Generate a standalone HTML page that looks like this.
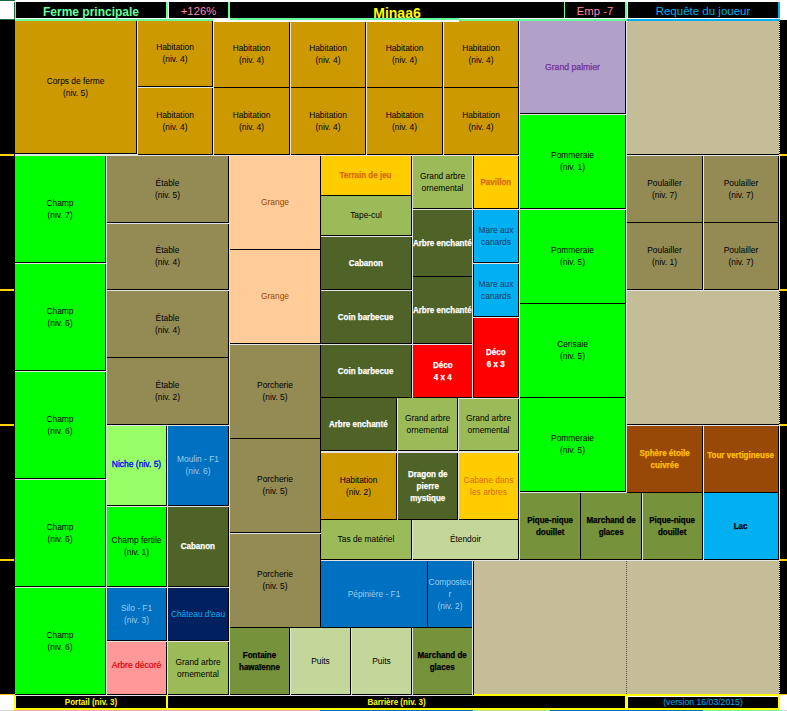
<!DOCTYPE html><html><head><meta charset="utf-8"><title>Ferme principale</title><style>
*{margin:0;padding:0;box-sizing:border-box}
html,body{width:787px;height:711px;overflow:hidden;background:#fff}
body{position:relative;font-family:"Liberation Sans",sans-serif}
.b span{display:inline-block}
.b{position:absolute;display:flex;align-items:center;justify-content:center;text-align:center;overflow:hidden;white-space:nowrap}
.r{position:absolute}
.t{position:absolute;display:flex;align-items:flex-end;justify-content:center;white-space:nowrap;line-height:1}
</style></head><body>
<div class="r" style="left:14px;top:20px;width:766px;height:676px;background:#e4e4e4"></div>
<div class="b" style="left:15px;top:21px;width:122px;height:133px;background:#cc9900;color:#000000;font-size:8.40px;line-height:12px;border-right:1px solid #000;border-bottom:1px solid #000"><span>Corps de ferme<br>(niv. 5)</span></div>
<div class="b" style="left:138px;top:21px;width:75px;height:66px;background:#cc9900;color:#000000;font-size:8.40px;line-height:12px;border-right:1px solid #000;border-bottom:1px solid #000"><span style="transform:translateY(-1.0px)">Habitation<br>(niv. 4)</span></div>
<div class="b" style="left:138px;top:88px;width:75px;height:67px;background:#cc9900;color:#000000;font-size:8.40px;line-height:12px;border-right:1px solid #000;border-bottom:1px solid #000"><span>Habitation<br>(niv. 4)</span></div>
<div class="b" style="left:214px;top:21px;width:76px;height:67px;background:#cc9900;color:#000000;font-size:8.40px;line-height:12px;border-right:1px solid #000;border-bottom:1px solid #000"><span>Habitation<br>(niv. 4)</span></div>
<div class="b" style="left:214px;top:88px;width:76px;height:67px;background:#cc9900;color:#000000;font-size:8.40px;line-height:12px;border-right:1px solid #000;border-bottom:1px solid #000"><span>Habitation<br>(niv. 4)</span></div>
<div class="b" style="left:291px;top:21px;width:75px;height:67px;background:#cc9900;color:#000000;font-size:8.40px;line-height:12px;border-right:1px solid #000;border-bottom:1px solid #000"><span>Habitation<br>(niv. 4)</span></div>
<div class="b" style="left:291px;top:88px;width:75px;height:67px;background:#cc9900;color:#000000;font-size:8.40px;line-height:12px;border-right:1px solid #000;border-bottom:1px solid #000"><span>Habitation<br>(niv. 4)</span></div>
<div class="b" style="left:367px;top:21px;width:76px;height:67px;background:#cc9900;color:#000000;font-size:8.40px;line-height:12px;border-right:1px solid #000;border-bottom:1px solid #000"><span>Habitation<br>(niv. 4)</span></div>
<div class="b" style="left:367px;top:88px;width:76px;height:67px;background:#cc9900;color:#000000;font-size:8.40px;line-height:12px;border-right:1px solid #000;border-bottom:1px solid #000"><span>Habitation<br>(niv. 4)</span></div>
<div class="b" style="left:444px;top:21px;width:75px;height:67px;background:#cc9900;color:#000000;font-size:8.40px;line-height:12px;border-right:1px solid #000;border-bottom:1px solid #000"><span>Habitation<br>(niv. 4)</span></div>
<div class="b" style="left:444px;top:88px;width:75px;height:67px;background:#cc9900;color:#000000;font-size:8.40px;line-height:12px;border-right:1px solid #000;border-bottom:1px solid #000"><span>Habitation<br>(niv. 4)</span></div>
<div class="b" style="left:520px;top:21px;width:106px;height:93px;background:#b1a0c7;color:#7030a0;font-size:8.70px;line-height:12px;border-right:1px solid #000;border-bottom:1px solid #000;-webkit-text-stroke:0.25px #7030a0"><span>Grand palmier</span></div>
<div class="b" style="left:627px;top:21px;width:152px;height:134px;background:#c4bd97;color:#000000;font-size:8.40px;line-height:12px;border-bottom:1px solid #000"><span style="transform:translateY(-1.0px)"></span></div>
<div class="b" style="left:15px;top:156px;width:91px;height:107px;background:#00ff00;color:#000000;font-size:8.40px;line-height:12px;border-right:1px solid #000;border-bottom:1px solid #000"><span>Champ<br>(niv. 7)</span></div>
<div class="b" style="left:15px;top:264px;width:91px;height:107px;background:#00ff00;color:#000000;font-size:8.40px;line-height:12px;border-right:1px solid #000;border-bottom:1px solid #000"><span>Champ<br>(niv. 6)</span></div>
<div class="b" style="left:15px;top:372px;width:91px;height:107px;background:#00ff00;color:#000000;font-size:8.40px;line-height:12px;border-right:1px solid #000;border-bottom:1px solid #000"><span>Champ<br>(niv. 6)</span></div>
<div class="b" style="left:15px;top:480px;width:91px;height:107px;background:#00ff00;color:#000000;font-size:8.40px;line-height:12px;border-right:1px solid #000;border-bottom:1px solid #000"><span>Champ<br>(niv. 6)</span></div>
<div class="b" style="left:15px;top:588px;width:91px;height:107px;background:#00ff00;color:#000000;font-size:8.40px;line-height:12px;border-right:1px solid #000;border-bottom:1px solid #000"><span>Champ<br>(niv. 6)</span></div>
<div class="b" style="left:107px;top:156px;width:122px;height:67px;background:#948a54;color:#000000;font-size:8.40px;line-height:12px;border-right:1px solid #000;border-bottom:1px solid #000"><span>Étable<br>(niv. 5)</span></div>
<div class="b" style="left:107px;top:224px;width:122px;height:66px;background:#948a54;color:#000000;font-size:8.40px;line-height:12px;border-right:1px solid #000;border-bottom:1px solid #000"><span style="transform:translateY(-1.0px)">Étable<br>(niv. 4)</span></div>
<div class="b" style="left:107px;top:291px;width:122px;height:67px;background:#948a54;color:#000000;font-size:8.40px;line-height:12px;border-right:1px solid #000;border-bottom:1px solid #000"><span>Étable<br>(niv. 4)</span></div>
<div class="b" style="left:107px;top:358px;width:122px;height:67px;background:#948a54;color:#000000;font-size:8.40px;line-height:12px;border-right:1px solid #000;border-bottom:1px solid #000"><span>Étable<br>(niv. 2)</span></div>
<div class="b" style="left:107px;top:426px;width:60px;height:80px;background:#99ff66;color:#0000ff;font-size:8.50px;line-height:12px;border-right:1px solid #000;border-bottom:1px solid #000;-webkit-text-stroke:0.3px #0000ff"><span style="transform:translateY(-2.0px)">Niche (niv. 5)</span></div>
<div class="b" style="left:168px;top:426px;width:61px;height:80px;background:#0070c0;color:#9ccdee;font-size:8.40px;line-height:12px;border-right:1px solid #000;border-bottom:1px solid #000"><span style="transform:translateY(-1.0px)">Moulin - F1<br>(niv. 6)</span></div>
<div class="b" style="left:107px;top:507px;width:60px;height:80px;background:#00ff00;color:#000000;font-size:8.40px;line-height:12px;border-right:1px solid #000;border-bottom:1px solid #000"><span style="transform:translateY(-1.0px)">Champ fertile<br>(niv. 1)</span></div>
<div class="b" style="left:168px;top:507px;width:61px;height:80px;background:#4f6228;color:#ffffff;font-size:8.80px;line-height:12px;border-right:1px solid #000;border-bottom:1px solid #000;font-weight:bold;-webkit-text-stroke:0.25px #ffffff"><span style="transform:translateY(-1.0px) scaleX(0.910)">Cabanon</span></div>
<div class="b" style="left:107px;top:588px;width:60px;height:53px;background:#0070c0;color:#9ccdee;font-size:8.40px;line-height:12px;border-right:1px solid #000;border-bottom:1px solid #000"><span>Silo - F1<br>(niv. 3)</span></div>
<div class="b" style="left:168px;top:588px;width:61px;height:53px;background:#002060;color:#00b0f0;font-size:8.40px;line-height:12px;border-right:1px solid #000;border-bottom:1px solid #000"><span>Château d'eau</span></div>
<div class="b" style="left:107px;top:642px;width:60px;height:53px;background:#ff9999;color:#e00000;font-size:8.55px;line-height:12px;border-right:1px solid #000;border-bottom:1px solid #000;-webkit-text-stroke:0.2px #e00000"><span style="transform:translateY(-3.0px)">Arbre décoré</span></div>
<div class="b" style="left:168px;top:642px;width:61px;height:53px;background:#9bbb59;color:#000000;font-size:8.40px;line-height:12px;border-right:1px solid #000;border-bottom:1px solid #000"><span>Grand arbre<br>ornemental</span></div>
<div class="b" style="left:230px;top:156px;width:91px;height:94px;background:#ffcc99;color:#974706;font-size:8.40px;line-height:12px;border-right:1px solid #000;border-bottom:1px solid #000"><span style="transform:translateY(-1.0px)">Grange</span></div>
<div class="b" style="left:230px;top:250px;width:91px;height:94px;background:#ffcc99;color:#974706;font-size:8.40px;line-height:12px;border-right:1px solid #000;border-bottom:1px solid #000"><span style="transform:translateY(-1.0px)">Grange</span></div>
<div class="b" style="left:230px;top:345px;width:91px;height:94px;background:#948a54;color:#000000;font-size:8.40px;line-height:12px;border-right:1px solid #000;border-bottom:1px solid #000"><span style="transform:translateY(-1.0px)">Porcherie<br>(niv. 5)</span></div>
<div class="b" style="left:230px;top:439px;width:91px;height:94px;background:#948a54;color:#000000;font-size:8.40px;line-height:12px;border-right:1px solid #000;border-bottom:1px solid #000"><span style="transform:translateY(-1.0px)">Porcherie<br>(niv. 5)</span></div>
<div class="b" style="left:230px;top:534px;width:91px;height:94px;background:#948a54;color:#000000;font-size:8.40px;line-height:12px;border-right:1px solid #000;border-bottom:1px solid #000"><span style="transform:translateY(-1.0px)">Porcherie<br>(niv. 5)</span></div>
<div class="b" style="left:230px;top:628px;width:60px;height:67px;background:#76933c;color:#000000;font-size:8.80px;line-height:12px;border-right:1px solid #000;border-bottom:1px solid #000;font-weight:bold;-webkit-text-stroke:0.25px #000000"><span style="transform:scaleX(0.910)">Fontaine<br>hawaïenne</span></div>
<div class="b" style="left:291px;top:628px;width:60px;height:67px;background:#c4d79b;color:#000000;font-size:8.40px;line-height:12px;border-right:1px solid #000;border-bottom:1px solid #000"><span>Puits</span></div>
<div class="b" style="left:352px;top:628px;width:60px;height:67px;background:#c4d79b;color:#000000;font-size:8.40px;line-height:12px;border-right:1px solid #000;border-bottom:1px solid #000"><span>Puits</span></div>
<div class="b" style="left:413px;top:628px;width:59px;height:67px;background:#76933c;color:#000000;font-size:8.80px;line-height:12px;border-bottom:1px solid #000;font-weight:bold;-webkit-text-stroke:0.25px #000000"><span style="transform:scaleX(0.910)">Marchand de<br>glaces</span></div>
<div class="b" style="left:321px;top:156px;width:91px;height:40px;background:#ffcc00;color:#d86a10;font-size:8.80px;line-height:12px;border-right:1px solid #000;border-bottom:1px solid #000;font-weight:bold;-webkit-text-stroke:0.25px #d86a10"><span style="transform:translateY(-1.0px) scaleX(0.910)">Terrain de jeu</span></div>
<div class="b" style="left:321px;top:196px;width:91px;height:40px;background:#9bbb59;color:#000000;font-size:8.40px;line-height:12px;border-right:1px solid #000;border-bottom:1px solid #000"><span style="transform:translateY(-1.0px)">Tape-cul</span></div>
<div class="b" style="left:321px;top:237px;width:91px;height:53px;background:#4f6228;color:#ffffff;font-size:8.80px;line-height:12px;border-right:1px solid #000;border-bottom:1px solid #000;font-weight:bold;-webkit-text-stroke:0.25px #ffffff"><span style="transform:scaleX(0.910)">Cabanon</span></div>
<div class="b" style="left:321px;top:291px;width:91px;height:53px;background:#4f6228;color:#ffffff;font-size:8.80px;line-height:12px;border-right:1px solid #000;border-bottom:1px solid #000;font-weight:bold;-webkit-text-stroke:0.25px #ffffff"><span style="transform:scaleX(0.910)">Coin barbecue</span></div>
<div class="b" style="left:321px;top:345px;width:91px;height:53px;background:#4f6228;color:#ffffff;font-size:8.80px;line-height:12px;border-right:1px solid #000;border-bottom:1px solid #000;font-weight:bold;-webkit-text-stroke:0.25px #ffffff"><span style="transform:scaleX(0.910)">Coin barbecue</span></div>
<div class="b" style="left:321px;top:398px;width:76px;height:53px;background:#4f6228;color:#ffffff;font-size:8.80px;line-height:12px;border-right:1px solid #000;border-bottom:1px solid #000;font-weight:bold;-webkit-text-stroke:0.25px #ffffff"><span style="transform:scaleX(0.910)">Arbre enchanté</span></div>
<div class="b" style="left:321px;top:453px;width:76px;height:67px;background:#cc9900;color:#000000;font-size:8.40px;line-height:12px;border-right:1px solid #000;border-bottom:1px solid #000"><span>Habitation<br>(niv. 2)</span></div>
<div class="b" style="left:321px;top:520px;width:91px;height:40px;background:#9bbb59;color:#000000;font-size:8.40px;line-height:12px;border-right:1px solid #000;border-bottom:1px solid #000"><span style="transform:translateY(-1.0px)">Tas de matériel</span></div>
<div class="b" style="left:321px;top:561px;width:107px;height:67px;background:#0070c0;color:#9ccdee;font-size:8.40px;line-height:12px;border-right:1px solid #000;border-bottom:1px solid #000"><span>Pépinière - F1</span></div>
<div class="b" style="left:428px;top:561px;width:44px;height:67px;background:#0070c0;color:#9ccdee;font-size:8.40px;line-height:12px;border-bottom:1px solid #000"><span>Composteu<br>r<br>(niv. 2)</span></div>
<div class="b" style="left:413px;top:156px;width:59px;height:53px;background:#9bbb59;color:#000000;font-size:8.40px;line-height:12px;border-bottom:1px solid #000"><span>Grand arbre<br>ornemental</span></div>
<div class="b" style="left:413px;top:210px;width:59px;height:67px;background:#4f6228;color:#ffffff;font-size:8.80px;line-height:12px;border-bottom:1px solid #000;font-weight:bold;-webkit-text-stroke:0.25px #ffffff"><span style="transform:scaleX(0.910)">Arbre enchanté</span></div>
<div class="b" style="left:413px;top:277px;width:59px;height:67px;background:#4f6228;color:#ffffff;font-size:8.80px;line-height:12px;border-bottom:1px solid #000;font-weight:bold;-webkit-text-stroke:0.25px #ffffff"><span style="transform:scaleX(0.910)">Arbre enchanté</span></div>
<div class="b" style="left:413px;top:345px;width:59px;height:53px;background:#ff0000;color:#ffffff;font-size:8.80px;line-height:12px;border-bottom:1px solid #000;font-weight:bold;-webkit-text-stroke:0.25px #ffffff"><span style="transform:scaleX(0.910)">Déco<br>4 x 4</span></div>
<div class="b" style="left:474px;top:156px;width:45px;height:53px;background:#ffcc00;color:#d86a10;font-size:8.80px;line-height:12px;border-right:1px solid #000;border-bottom:1px solid #000;font-weight:bold;-webkit-text-stroke:0.25px #d86a10"><span style="transform:scaleX(0.910)">Pavillon</span></div>
<div class="b" style="left:474px;top:210px;width:45px;height:53px;background:#00b0f0;color:#1f3864;font-size:8.40px;line-height:12px;border-right:1px solid #000;border-bottom:1px solid #000"><span>Mare aux<br>canards</span></div>
<div class="b" style="left:474px;top:264px;width:45px;height:53px;background:#00b0f0;color:#1f3864;font-size:8.40px;line-height:12px;border-right:1px solid #000;border-bottom:1px solid #000"><span>Mare aux<br>canards</span></div>
<div class="b" style="left:474px;top:318px;width:45px;height:80px;background:#ff0000;color:#ffffff;font-size:8.80px;line-height:12px;border-right:1px solid #000;border-bottom:1px solid #000;font-weight:bold;-webkit-text-stroke:0.25px #ffffff"><span style="transform:scaleX(0.910)">Déco<br>6 x 3</span></div>
<div class="b" style="left:398px;top:398px;width:60px;height:53px;background:#9bbb59;color:#000000;font-size:8.40px;line-height:12px;border-right:1px solid #000;border-bottom:1px solid #000"><span>Grand arbre<br>ornemental</span></div>
<div class="b" style="left:459px;top:399px;width:60px;height:52px;background:#9bbb59;color:#000000;font-size:8.40px;line-height:12px;border-right:1px solid #000;border-bottom:1px solid #000"><span style="transform:translateY(-1.0px)">Grand arbre<br>ornemental</span></div>
<div class="b" style="left:398px;top:453px;width:60px;height:67px;background:#4f6228;color:#ffffff;font-size:8.80px;line-height:12px;border-right:1px solid #000;border-bottom:1px solid #000;font-weight:bold;-webkit-text-stroke:0.25px #ffffff"><span style="transform:scaleX(0.910)">Dragon de<br>pierre<br>mystique</span></div>
<div class="b" style="left:459px;top:453px;width:60px;height:67px;background:#ffcc00;color:#d86a10;font-size:8.40px;line-height:12px;border-right:1px solid #000;border-bottom:1px solid #000"><span>Cabane dans<br>les arbres</span></div>
<div class="b" style="left:413px;top:520px;width:106px;height:40px;background:#c4d79b;color:#000000;font-size:8.40px;line-height:12px;border-right:1px solid #000;border-bottom:1px solid #000"><span style="transform:translateY(-1.5px)">Étendoir</span></div>
<div class="b" style="left:520px;top:115px;width:106px;height:94px;background:#00ff00;color:#000000;font-size:8.40px;line-height:12px;border-right:1px solid #000;border-bottom:1px solid #000"><span style="transform:translateY(-1.0px)">Pommeraie<br>(niv. 1)</span></div>
<div class="b" style="left:520px;top:210px;width:106px;height:94px;background:#00ff00;color:#000000;font-size:8.40px;line-height:12px;border-right:1px solid #000;border-bottom:1px solid #000"><span style="transform:translateY(-1.0px)">Pommeraie<br>(niv. 5)</span></div>
<div class="b" style="left:520px;top:304px;width:106px;height:94px;background:#00ff00;color:#000000;font-size:8.40px;line-height:12px;border-right:1px solid #000;border-bottom:1px solid #000"><span style="transform:translateY(-1.0px)">Cerisaie<br>(niv. 5)</span></div>
<div class="b" style="left:520px;top:398px;width:106px;height:94px;background:#00ff00;color:#000000;font-size:8.40px;line-height:12px;border-right:1px solid #000;border-bottom:1px solid #000"><span style="transform:translateY(-1.0px)">Pommeraie<br>(niv. 5)</span></div>
<div class="b" style="left:520px;top:493px;width:61px;height:67px;background:#76933c;color:#000000;font-size:8.80px;line-height:12px;border-right:1px solid #000;border-bottom:1px solid #000;font-weight:bold;-webkit-text-stroke:0.25px #000000"><span style="transform:scaleX(0.910)">Pique-nique<br>douillet</span></div>
<div class="b" style="left:581px;top:493px;width:61px;height:67px;background:#76933c;color:#000000;font-size:8.80px;line-height:12px;border-right:1px solid #000;border-bottom:1px solid #000;font-weight:bold;-webkit-text-stroke:0.25px #000000"><span style="transform:scaleX(0.910)">Marchand de<br>glaces</span></div>
<div class="b" style="left:643px;top:493px;width:60px;height:67px;background:#76933c;color:#000000;font-size:8.80px;line-height:12px;border-right:1px solid #000;border-bottom:1px solid #000;font-weight:bold;-webkit-text-stroke:0.25px #000000"><span style="transform:scaleX(0.910)">Pique-nique<br>douillet</span></div>
<div class="b" style="left:704px;top:493px;width:75px;height:67px;background:#00b0f0;color:#000000;font-size:8.80px;line-height:12px;border-right:1px solid #000;border-bottom:1px solid #000;font-weight:bold;-webkit-text-stroke:0.25px #000000"><span style="transform:scaleX(0.910)">Lac</span></div>
<div class="b" style="left:627px;top:156px;width:76px;height:67px;background:#948a54;color:#000000;font-size:8.40px;line-height:12px;border-right:1px solid #000;border-bottom:1px solid #000"><span>Poulailler<br>(niv. 7)</span></div>
<div class="b" style="left:704px;top:156px;width:75px;height:67px;background:#948a54;color:#000000;font-size:8.40px;line-height:12px;border-right:1px solid #000;border-bottom:1px solid #000"><span>Poulailler<br>(niv. 7)</span></div>
<div class="b" style="left:627px;top:223px;width:76px;height:67px;background:#948a54;color:#000000;font-size:8.40px;line-height:12px;border-right:1px solid #000;border-bottom:1px solid #000"><span>Poulailler<br>(niv. 1)</span></div>
<div class="b" style="left:704px;top:223px;width:75px;height:67px;background:#948a54;color:#000000;font-size:8.40px;line-height:12px;border-right:1px solid #000;border-bottom:1px solid #000"><span>Poulailler<br>(niv. 7)</span></div>
<div class="b" style="left:627px;top:291px;width:152px;height:134px;background:#c4bd97;color:#000000;font-size:8.40px;line-height:12px;border-bottom:1px solid #000"><span style="transform:translateY(-1.0px)"></span></div>
<div class="b" style="left:627px;top:426px;width:76px;height:67px;background:#984807;color:#ffc000;font-size:8.80px;line-height:12px;border-right:1px solid #000;border-bottom:1px solid #000;font-weight:bold;-webkit-text-stroke:0.25px #ffc000"><span style="transform:scaleX(0.910)">Sphère étoile<br>cuivrée</span></div>
<div class="b" style="left:704px;top:426px;width:75px;height:67px;background:#984807;color:#ffc000;font-size:8.80px;line-height:12px;border-right:1px solid #000;border-bottom:1px solid #000;font-weight:bold;-webkit-text-stroke:0.25px #ffc000"><span style="transform:translateY(-4.0px) scaleX(0.910)">Tour vertigineuse</span></div>
<div class="b" style="left:474px;top:561px;width:305px;height:133px;background:#c4bd97;color:#000000;font-size:8.40px;line-height:12px"><span></span></div>
<div class="r" style="left:473px;top:156px;width:1px;height:53px;background:#000;"></div>
<div class="r" style="left:473px;top:210px;width:1px;height:53px;background:#000;"></div>
<div class="r" style="left:473px;top:264px;width:1px;height:53px;background:#000;"></div>
<div class="r" style="left:473px;top:318px;width:1px;height:80px;background:#000;"></div>
<div class="r" style="left:473px;top:561px;width:1px;height:134px;background:#000;"></div>
<div class="r" style="left:473px;top:628px;width:1px;height:67px;background:#000;"></div>
<div class="r" style="left:779px;top:21px;width:1px;height:133px;background:transparent;border-left:1px dotted #000"></div>
<div class="r" style="left:779px;top:291px;width:1px;height:133px;background:transparent;border-left:1px dotted #000"></div>
<div class="r" style="left:779px;top:561px;width:1px;height:133px;background:transparent;border-left:1px dotted #000"></div>
<div class="r" style="left:626px;top:561px;width:1px;height:133px;background:transparent;border-left:1px dotted #555"></div>
<div class="r" style="left:0px;top:0px;width:15px;height:1px;background:#1e6b3c;"></div>
<div class="r" style="left:0px;top:19px;width:15px;height:1px;background:#1e6b3c;"></div>
<div class="r" style="left:14px;top:2px;width:1px;height:18px;background:#1e6b3c;"></div>
<div class="r" style="left:16px;top:2px;width:150px;height:16px;background:#000;"></div>
<div class="r" style="left:15px;top:2px;width:1px;height:17px;background:#66ff99;"></div>
<div class="r" style="left:166px;top:2px;width:2px;height:17px;background:#66ff99;"></div>
<div class="r" style="left:169px;top:2px;width:59px;height:16px;background:#000;"></div>
<div class="r" style="left:228px;top:2px;width:2px;height:17px;background:#66ff99;"></div>
<div class="r" style="left:230px;top:2px;width:334px;height:16px;background:#000;"></div>
<div class="r" style="left:564px;top:2px;width:1px;height:17px;background:#66ff99;"></div>
<div class="r" style="left:565px;top:2px;width:60px;height:16px;background:#000;"></div>
<div class="r" style="left:625px;top:2px;width:2px;height:17px;background:#66ff99;"></div>
<div class="r" style="left:628px;top:2px;width:150px;height:16px;background:#000;"></div>
<div class="r" style="left:778px;top:2px;width:2px;height:18px;background:#00b0f0;"></div>
<div class="r" style="left:15px;top:18px;width:215px;height:1px;background:#fff;"></div>
<div class="r" style="left:15px;top:19px;width:198px;height:2px;background:#66ff99;"></div>
<div class="r" style="left:213px;top:19px;width:17px;height:3px;background:#fff;"></div>
<div class="r" style="left:230px;top:18px;width:229px;height:2px;background:#66ff99;"></div>
<div class="r" style="left:230px;top:20px;width:229px;height:2px;background:#fff;"></div>
<div class="r" style="left:459px;top:18px;width:168px;height:1px;background:#fff;"></div>
<div class="r" style="left:459px;top:19px;width:168px;height:2px;background:#66ff99;"></div>
<div class="r" style="left:627px;top:18px;width:153px;height:1px;background:#fff;"></div>
<div class="r" style="left:627px;top:19px;width:153px;height:2px;background:#00b0f0;"></div>
<div class="r" style="left:0px;top:20px;width:15px;height:674px;background:#000;"></div>
<div class="r" style="left:780px;top:20px;width:7px;height:675px;background:#000;"></div>
<div class="r" style="left:0px;top:154px;width:14px;height:2px;background:#ffd200;"></div>
<div class="r" style="left:780px;top:154px;width:7px;height:2px;background:#ffd200;"></div>
<div class="r" style="left:0px;top:289px;width:14px;height:2px;background:#ffd200;"></div>
<div class="r" style="left:780px;top:289px;width:7px;height:2px;background:#ffd200;"></div>
<div class="r" style="left:0px;top:424px;width:14px;height:2px;background:#ffd200;"></div>
<div class="r" style="left:780px;top:424px;width:7px;height:2px;background:#ffd200;"></div>
<div class="r" style="left:0px;top:559px;width:14px;height:2px;background:#ffd200;"></div>
<div class="r" style="left:780px;top:559px;width:7px;height:2px;background:#ffd200;"></div>
<div class="r" style="left:0px;top:694px;width:14px;height:1px;background:#ffc000;"></div>
<div class="r" style="left:780px;top:694px;width:7px;height:1px;background:#ffc000;"></div>
<div class="r" style="left:16px;top:696px;width:150px;height:12px;background:#000;"></div>
<div class="r" style="left:14px;top:695px;width:2px;height:15px;background:#ffff00;"></div>
<div class="r" style="left:14px;top:708px;width:154px;height:2px;background:#ffff00;"></div>
<div class="r" style="left:166px;top:695px;width:2px;height:15px;background:#ffff00;"></div>
<div class="r" style="left:168px;top:696px;width:457px;height:12px;background:#000;"></div>
<div class="r" style="left:168px;top:708px;width:459px;height:2px;background:#ffff00;"></div>
<div class="r" style="left:625px;top:696px;width:2px;height:14px;background:#ffff00;"></div>
<div class="r" style="left:474px;top:694px;width:306px;height:2px;background:#ffff00;"></div>
<div class="r" style="left:628px;top:697px;width:150px;height:11px;background:#000;"></div>
<div class="r" style="left:627px;top:708px;width:153px;height:2px;background:#ffff00;"></div>
<div class="r" style="left:778px;top:696px;width:2px;height:14px;background:#ffff00;"></div>
<div class="r" style="left:0px;top:710px;width:14px;height:1px;background:#d4d4d4;"></div>
<div class="r" style="left:14px;top:710px;width:306px;height:1px;background:#f4a8b0;"></div>
<div class="r" style="left:320px;top:710px;width:153px;height:1px;background:#0070c0;"></div>
<div class="r" style="left:473px;top:710px;width:77px;height:1px;background:#c4e08a;"></div>
<div class="r" style="left:550px;top:710px;width:153px;height:1px;background:#0070c0;"></div>
<div class="r" style="left:703px;top:710px;width:77px;height:1px;background:#80f0a0;"></div>
<div class="r" style="left:780px;top:710px;width:7px;height:1px;background:#d4d4d4;"></div>
<div class="t" style="left:16px;top:-2px;width:150px;height:20px;color:#66ff99;font-size:12.00px;font-weight:bold;">Ferme principale</div>
<div class="t" style="left:169px;top:-3px;width:59px;height:20px;color:#ff8aa8;font-size:11.30px;font-weight:normal;">+126%</div>
<div class="t" style="left:230px;top:0px;width:334px;height:20px;color:#ffff00;font-size:14.00px;font-weight:bold;">Minaa6</div>
<div class="t" style="left:565px;top:-3px;width:60px;height:20px;color:#ff8aa8;font-size:11.30px;font-weight:normal;">Emp -7</div>
<div class="t" style="left:628px;top:-3px;width:150px;height:20px;color:#00b0f0;font-size:11.50px;font-weight:normal;">Requête du joueur</div>
<div class="t" style="left:16px;top:687px;width:150px;height:20px;color:#ffff00;font-size:8.80px;font-weight:bold;transform:scaleX(0.91)">Portail (niv. 3)</div>
<div class="t" style="left:168px;top:687px;width:457px;height:20px;color:#ffff00;font-size:8.80px;font-weight:bold;transform:scaleX(0.91)">Barrière (niv. 3)</div>
<div class="t" style="left:628px;top:687px;width:150px;height:20px;color:#00b0f0;font-size:8.70px;font-weight:normal;">(version 16/03/2015)</div>
</body></html>
